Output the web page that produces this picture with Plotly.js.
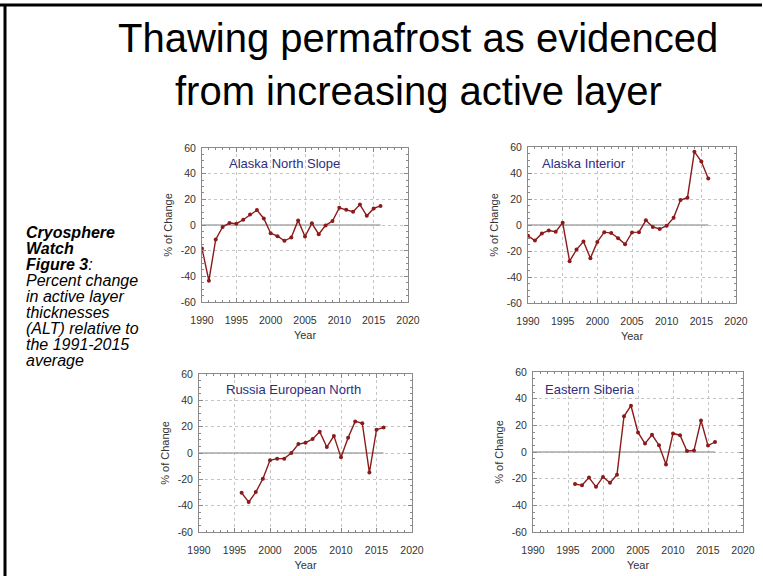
<!DOCTYPE html>
<html>
<head>
<meta charset="utf-8">
<script src="https://cdn.plot.ly/plotly-3.0.1.min.js"></script>
<style>
  html, body { margin: 0; padding: 0; background: #ffffff; }
  #chart { width: 763px; height: 576px; }
</style>
</head>
<body>
<div id="chart"></div>
<script>
// ---------- DATA ----------
const regionNames = ["Alaska North Slope", "Alaska Interior", "Russia European North", "Eastern Siberia"];

const yearsAlaskaNorthSlope = [1990,1991,1992,1993,1994,1995,1996,1997,1998,1999,2000,2001,2002,2003,2004,2005,2006,2007,2008,2009,2010,2011,2012,2013,2014,2015,2016];
const altAlaskaNorthSlope   = [-18.3,-43.4,-11.3,-1.5,1.5,1.0,4.1,8.2,11.6,5.1,-6.4,-8.7,-12.3,-9.8,3.6,-9.0,1.3,-7.2,-0.3,3.1,13.4,11.8,10.3,15.9,7.2,12.9,14.9];

const yearsAlaskaInterior = [1990,1991,1992,1993,1994,1995,1996,1997,1998,1999,2000,2001,2002,2003,2004,2005,2006,2007,2008,2009,2010,2011,2012,2013,2014,2015,2016];
const altAlaskaInterior   = [-8.3,-11.9,-6.5,-4.2,-5.2,1.8,-27.8,-18.9,-12.7,-25.5,-13.0,-5.5,-6.2,-10.1,-14.8,-5.7,-5.5,3.6,-1.5,-3.1,-0.5,5.5,19.2,21.0,56.4,48.8,35.8];

const yearsRussiaEuropeanNorth = [1996,1997,1998,1999,2000,2001,2002,2003,2004,2005,2006,2007,2008,2009,2010,2011,2012,2013,2014,2015,2016];
const altRussiaEuropeanNorth   = [-30.2,-37.3,-29.7,-19.6,-5.5,-4.3,-4.3,0.0,6.8,7.8,10.6,16.1,4.5,13.0,-3.3,11.6,24.0,22.6,-14.9,17.7,19.4];

const yearsEasternSiberia = [1996,1997,1998,1999,2000,2001,2002,2003,2004,2005,2006,2007,2008,2009,2010,2011,2012,2013,2014,2015,2016];
const altEasternSiberia   = [-24.0,-25.0,-19.2,-26.1,-18.7,-23.1,-17.0,26.8,34.7,14.7,6.3,12.9,5.1,-9.3,13.9,12.6,0.8,1.2,23.6,4.8,7.5];

const zeroLineYears  = [1990, 2016];
const zeroLineValues = [0, 0];

const xTickValues = [1990, 1995, 2000, 2005, 2010, 2015, 2020];
const xTickLabels = ["1990", "1995", "2000", "2005", "2010", "2015", "2020"];
const yTickValues = [-60, -40, -20, 0, 20, 40, 60];
const yTickLabels = ["-60", "-40", "-20", "0", "20", "40", "60"];

const titleLines = ["Thawing permafrost as evidenced", "from increasing active layer"];
const sideTextLines = [
  "<b>Cryosphere</b>",
  "<b>Watch</b>",
  "<b>Figure 3</b>:",
  "Percent change",
  "in active layer",
  "thicknesses",
  "(ALT) relative to",
  "the 1991-2015",
  "average"
];

// ---------- LAYOUT HELPERS ----------
const W = 763, H = 576;
const px = v => v / W;
const py = v => 1 - v / H;
const FONT = "Liberation Sans, Arial, Helvetica, sans-serif";
const lineColor = "#8b1a1a";

const seriesX = [yearsAlaskaNorthSlope, yearsAlaskaInterior, yearsRussiaEuropeanNorth, yearsEasternSiberia];
const seriesY = [altAlaskaNorthSlope, altAlaskaInterior, altRussiaEuropeanNorth, altEasternSiberia];

// panel boxes in pixels: [left, right, top, bottom]
const boxes = [
  [202, 408, 148, 302],
  [528, 736, 147, 303],
  [199, 412, 374, 532],
  [533, 743, 372, 532]
];
const labelPos = [[227, 163], [540, 163], [224, 389], [543, 389]];

const traces = [];
const layout = {
  width: W, height: H,
  margin: {l: 0, r: 0, t: 0, b: 0},
  paper_bgcolor: "#ffffff",
  plot_bgcolor: "#ffffff",
  showlegend: false,
  font: {family: FONT, color: "#333333", size: 11},
  annotations: [],
  shapes: []
};

for (let i = 0; i < 4; i++) {
  const n = i + 1;
  const xa = "x" + (n === 1 ? "" : n);
  const ya = "y" + (n === 1 ? "" : n);
  traces.push({
    x: zeroLineYears, y: zeroLineValues, xaxis: xa, yaxis: ya,
    mode: "lines", line: {color: "#a8a8a8", width: 1.5}, hoverinfo: "skip"
  });
  traces.push({
    x: seriesX[i], y: seriesY[i], xaxis: xa, yaxis: ya,
    mode: "lines+markers", name: regionNames[i],
    line: {color: lineColor, width: 1.4},
    marker: {color: lineColor, size: 4}
  });
  const b = boxes[i];
  const common = {
    showline: true, linecolor: "#8a8a8a", linewidth: 1, mirror: "allticks",
    ticks: "inside", ticklen: 4, tickcolor: "#8a8a8a",
    showgrid: true, gridcolor: "#c4c4c4", griddash: "dot", gridwidth: 1,
    zeroline: false, fixedrange: true,
    tickfont: {family: FONT, size: 10.5, color: "#333333"}
  };
  layout["xaxis" + (n === 1 ? "" : n)] = Object.assign({}, common, {
    domain: [px(b[0]), px(b[1])],
    anchor: ya,
    range: [1990, 2020],
    tickmode: "array", tickvals: xTickValues, ticktext: xTickLabels,
    ticklabelstandoff: 8,
    minor: {dtick: 1, ticks: "inside", ticklen: 2, tickcolor: "#8a8a8a", showgrid: false},
    title: {text: "Year", font: {family: FONT, size: 11, color: "#333333"}, standoff: 6}
  });
  layout["yaxis" + (n === 1 ? "" : n)] = Object.assign({}, common, {
    domain: [py(b[3]), py(b[2])],
    anchor: xa,
    range: [-60, 60],
    tickmode: "array", tickvals: yTickValues, ticktext: yTickLabels,
    ticklabelstandoff: 3,
    minor: {dtick: 5, ticks: "inside", ticklen: 2, tickcolor: "#8a8a8a", showgrid: false},
    title: {text: "% of Change", font: {family: FONT, size: 11, color: "#333333"}, standoff: 5}
  });
  layout.annotations.push({
    xref: "paper", yref: "paper", x: px(labelPos[i][0]), y: py(labelPos[i][1]),
    xanchor: "left", yanchor: "middle", showarrow: false,
    text: regionNames[i], font: {family: FONT, size: 13, color: "#2e2e7e"}
  });
}

// main title lines
const titleY = [38, 91];
titleLines.forEach((t, k) => {
  layout.annotations.push({
    xref: "paper", yref: "paper", x: px(418), y: py(titleY[k]),
    xanchor: "center", yanchor: "middle", showarrow: false,
    text: t, font: {family: FONT, size: 40, color: "#000000"}
  });
});

// side caption lines
sideTextLines.forEach((t, k) => {
  layout.annotations.push({
    xref: "paper", yref: "paper", x: px(24), y: py(233 + k * 15.9),
    xanchor: "left", yanchor: "middle", showarrow: false,
    text: "<i>" + t + "</i>", font: {family: FONT, size: 16, color: "#000000"}
  });
});

// slide frame (top and left edges)
layout.shapes.push({type: "line", xref: "paper", yref: "paper", x0: 0, x1: px(762), y0: py(5), y1: py(5), line: {color: "#000000", width: 3}});
layout.shapes.push({type: "line", xref: "paper", yref: "paper", x0: px(5), x1: px(5), y0: py(4), y1: 0, line: {color: "#000000", width: 3}});

Plotly.newPlot("chart", traces, layout, {displayModeBar: false, staticPlot: true});
</script>
</body>
</html>
